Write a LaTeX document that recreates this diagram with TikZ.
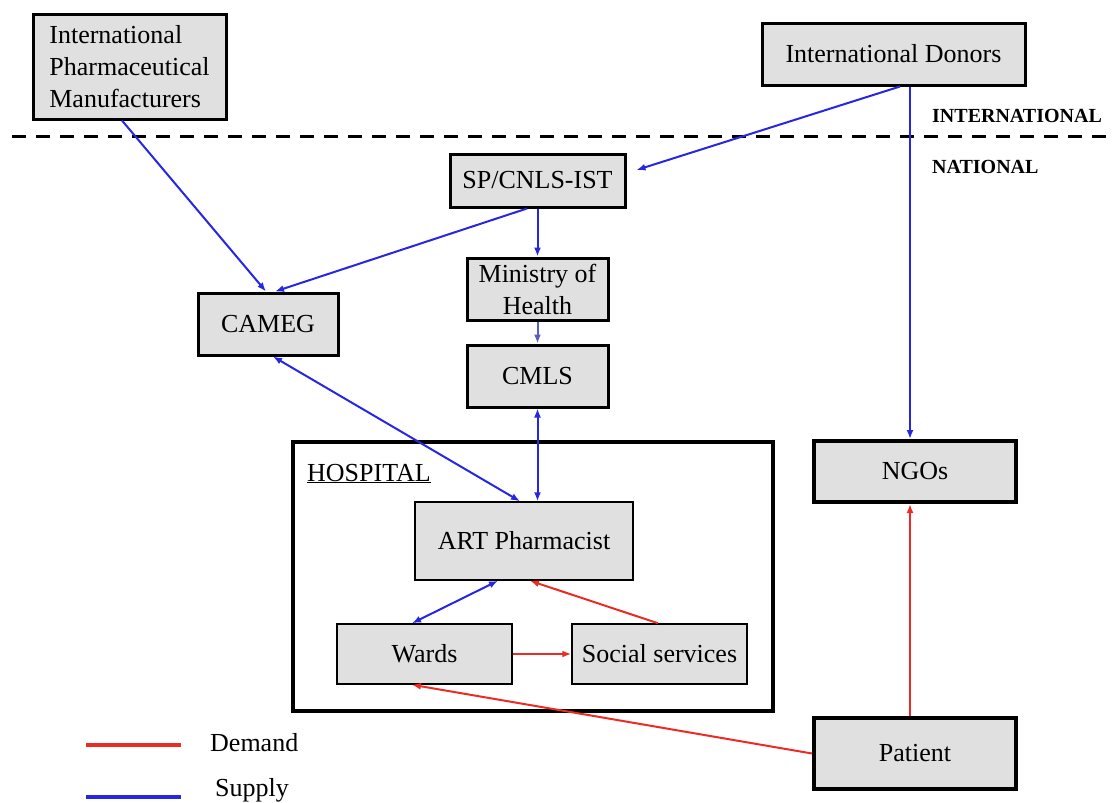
\documentclass[tikz,border=0pt]{standalone}
\usepackage{fontspec}
\setmainfont{Liberation Serif}
\usetikzlibrary{arrows.meta}
\definecolor{boxgray}{RGB}{224,224,224}
\definecolor{supplyblue}{RGB}{38,38,228}
\definecolor{demandred}{RGB}{236,44,36}
\definecolor{linkblue}{RGB}{92,92,190}
\begin{document}
\begin{tikzpicture}[x=1pt,y=-1pt,>={Latex[length=9pt,width=7pt]},
		box/.style={draw,fill=boxgray,line width=3pt,inner sep=2pt,font=\fontsize{26}{32}\selectfont},
		thinbox/.style={box,line width=1.5pt},
		supply/.style={draw=supplyblue,line width=2pt},
		demand/.style={draw=demandred,line width=2pt},
		level/.style={anchor=west,inner sep=0pt,font=\fontsize{20}{24}\selectfont\bfseries}]
			\useasboundingbox (0,0) rectangle (1112,803);
			\draw[line width=3pt,dash pattern=on 14pt off 10pt] (12,136) -- (1112,136);
			\node[level] (intl) at (932,116) {INTERNATIONAL};
			\node[level] (natl) at (932,167) {NATIONAL};
			\node[draw,line width=4pt,minimum width=480pt,minimum height=269pt] (hospital) at (533,576.5) {};
			\node[anchor=base west,inner sep=0pt,font=\fontsize{26}{32}\selectfont] (hosplabel) at (307,481) {\underline{HOSPITAL}};
			\node[box,align=left,minimum width=193pt,minimum height=105pt] (ipm) at (129.5,66.5) {International\\Pharmaceutical\\Manufacturers};
			\node[box,minimum width=263pt,minimum height=62pt] (donors) at (893.5,54) {International Donors};
			\node[box,minimum width=175pt,minimum height=53pt] (sp) at (537.5,180.5) {SP/CNLS-IST};
			\node[box,align=center,inner sep=0pt,minimum width=141pt,minimum height=62pt] (moh) at (537.5,289) {Ministry of\\Health};
			\node[box,minimum width=141pt,minimum height=62pt] (cmls) at (537.5,376) {CMLS};
			\node[box,minimum width=140pt,minimum height=62pt] (cameg) at (268,324) {CAMEG};
			\node[thinbox,minimum width=218pt,minimum height=78pt] (art) at (524,541) {ART Pharmacist};
			\node[thinbox,minimum width=175pt,minimum height=60pt] (wards) at (424.5,654) {Wards};
			\node[thinbox,minimum width=175pt,minimum height=60pt] (social) at (659.5,654) {Social services};
			\node[box,line width=4pt,minimum width=202pt,minimum height=61pt] (ngos) at (915,471.5) {NGOs};
			\node[box,line width=4pt,minimum width=202pt,minimum height=71pt] (patient) at (915,753.5) {Patient};
			\draw[supply,->] ([xshift=-7.5pt]ipm.south) -- ([xshift=-2pt]cameg.north);
			\draw[supply,->] ([xshift=-10.5pt]sp.south) -- ([xshift=7pt]cameg.north);
			\draw[supply,->] ([xshift=6.5pt]donors.south) -- ([shift={(10pt,10.5pt)}]sp.east);
			\draw[supply,->] ([xshift=16.5pt]donors.south) -- ([xshift=-5pt]ngos.north);
			\draw[supply,->] (sp.south) -- (moh.north);
			\draw[supply,draw=linkblue,->] (moh.south) -- (cmls.north);
			\draw[supply,<->] (cmls.south) -- (cmls.south |- art.north);
			\draw[supply,<->] ([xshift=5pt]cameg.south) -- ([xshift=-4pt]art.north);
			\draw[supply,<->] ([xshift=-26pt]art.south) -- ([xshift=-12.5pt]wards.north);
			\draw[demand,->] ([xshift=-1.5pt]social.north) -- ([xshift=6pt]art.south);
			\draw[demand,->] (wards.east) -- (social.west);
			\draw[demand,->] (patient.west) -- ([xshift=-12.5pt]wards.south);
			\draw[demand,->] ([xshift=-5pt]patient.north) -- ([xshift=-5pt]ngos.south);
			\draw[demandred,line width=4pt] (86,745) -- (181,745);
			\draw[supplyblue,line width=4pt] (86,797) -- (181,797);
			\node[anchor=west,inner sep=0pt,font=\fontsize{26}{32}\selectfont] (demandlabel) at (210,743) {Demand};
			\node[anchor=west,inner sep=0pt,font=\fontsize{26}{32}\selectfont] (supplylabel) at (215,790) {Supply};
		\end{tikzpicture}
\end{document}
